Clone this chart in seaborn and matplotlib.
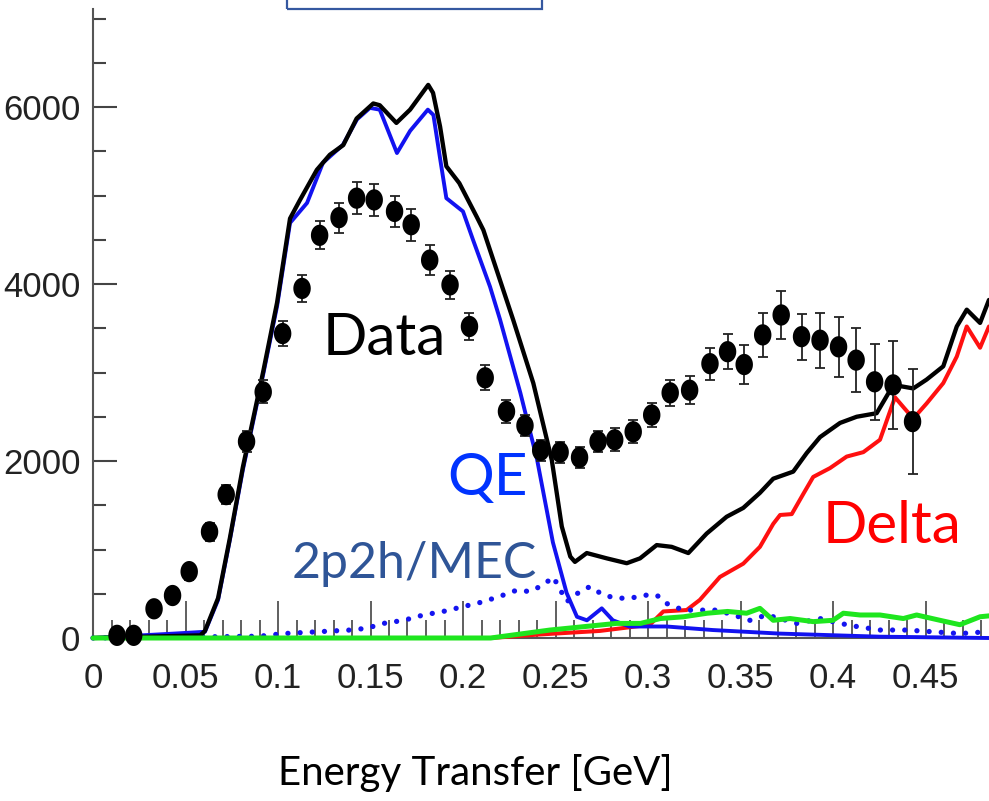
import numpy as np
import pandas as pd
import seaborn as sns
import matplotlib
matplotlib.use("Agg")
import matplotlib.pyplot as plt
from matplotlib.path import Path
from matplotlib.patches import Rectangle
from matplotlib.ticker import FixedLocator, MultipleLocator

# ---- measured cross-section points (energy transfer in GeV, events) ----
data_x = [0.013, 0.022, 0.033, 0.043, 0.052, 0.063, 0.072, 0.083, 0.092, 0.1025,
          0.113, 0.1225, 0.133, 0.1425, 0.152, 0.163, 0.172, 0.182, 0.193, 0.2035,
          0.212, 0.2235, 0.2335, 0.242, 0.2525, 0.263, 0.273, 0.282, 0.292, 0.302,
          0.312, 0.3225, 0.3335, 0.343, 0.352, 0.362, 0.372, 0.383, 0.393, 0.403,
          0.4125, 0.4225, 0.4325, 0.443]
data_y = [30, 30, 330, 480, 750, 1200, 1620, 2220, 2780, 3440,
          3950, 4550, 4750, 4970, 4950, 4820, 4670, 4270, 3990, 3520,
          2940, 2560, 2400, 2120, 2100, 2040, 2220, 2240, 2330, 2520,
          2770, 2800, 3100, 3235, 3090, 3425, 3650, 3405, 3365, 3290,
          3140, 2895, 2860, 2445]
data_err = [30, 30, 60, 70, 90, 100, 110, 120, 130, 140,
            150, 160, 170, 180, 180, 180, 180, 170, 160, 150,
            140, 130, 120, 120, 120, 120, 120, 130, 130, 140,
            150, 160, 180, 200, 225, 245, 270, 260, 310, 340,
            365, 430, 500, 590]

# ---- model: total prediction ----
total_x = [0.0, 0.058, 0.0605, 0.0676, 0.074, 0.081, 0.092, 0.0995, 0.1065, 0.1119,
           0.121, 0.128, 0.1353, 0.1425, 0.1515, 0.155, 0.164, 0.1714, 0.1812, 0.1838,
           0.1876, 0.191, 0.198, 0.2074, 0.211, 0.2164, 0.2272, 0.238, 0.248, 0.2534,
           0.258, 0.2605, 0.2669, 0.2777, 0.2885, 0.2957, 0.3047, 0.3128, 0.3218, 0.3317,
           0.3425, 0.3515, 0.3605, 0.3677, 0.3785, 0.3858, 0.393, 0.4038, 0.4128, 0.4236,
           0.4326, 0.4434, 0.4506, 0.4596, 0.4669, 0.4723, 0.4795, 0.4843]
total_y = [0, 30, 80, 450, 1130, 1930, 3010, 3790, 4740, 4950,
           5290, 5460, 5570, 5870, 6040, 6020, 5820, 5970, 6250, 6160,
           5780, 5330, 5140, 4760, 4610, 4270, 3590, 2880, 2010, 1260,
           920, 860, 960, 900, 845, 900, 1050, 1030, 960, 1180,
           1370, 1470, 1640, 1800, 1880, 2090, 2270, 2430, 2500, 2540,
           2860, 2820, 2920, 3070, 3520, 3710, 3560, 3820]

# ---- quasi-elastic component ----
qe_x = [0.0, 0.044, 0.0605, 0.0676, 0.074, 0.081, 0.092, 0.0995, 0.1065, 0.1157,
        0.1243, 0.135, 0.1427, 0.1497, 0.155, 0.1643, 0.1714, 0.181, 0.184, 0.1876,
        0.191, 0.2, 0.2054, 0.2146, 0.22, 0.231, 0.24, 0.2486, 0.256, 0.2616,
        0.267, 0.275, 0.281, 0.29, 0.31, 0.335, 0.371, 0.425, 0.4843]
qe_y = [0, 50, 70, 430, 1110, 1900, 2980, 3750, 4690, 4916,
        5370, 5570, 5860, 5990, 5970, 5480, 5730, 5970, 5910, 5420,
        4970, 4820, 4500, 3970, 3600, 2770, 2020, 1080, 510, 240,
        200, 335, 200, 130, 130, 90, 50, 15, 0]

# ---- 2p2h / meson-exchange-current component ----
mec_x = [0.0, 0.09, 0.103, 0.121, 0.139, 0.148, 0.157, 0.168, 0.1786, 0.1893,
         0.2002, 0.211, 0.2218, 0.229, 0.2362, 0.2434, 0.2488, 0.2561, 0.2632, 0.2686,
         0.2759, 0.283, 0.2903, 0.2993, 0.3047, 0.3101, 0.3191, 0.3281, 0.3373, 0.3461,
         0.3551, 0.3641, 0.3714, 0.3804, 0.3929, 0.4038, 0.4128, 0.4254, 0.4398, 0.4542,
         0.4686, 0.4829]
mec_y = [0, 20, 50, 70, 90, 110, 165, 200, 260, 300,
         355, 410, 485, 540, 525, 600, 690, 410, 525, 580,
         485, 450, 450, 485, 485, 390, 315, 315, 315, 260,
         200, 260, 220, 165, 220, 165, 130, 90, 90, 70,
         50, 70]

# ---- Delta resonance component ----
delta_x = [0.0, 0.215, 0.2416, 0.274, 0.301, 0.3083, 0.3209, 0.328, 0.3389, 0.3515,
           0.3605, 0.3677, 0.3714, 0.3777, 0.384, 0.3893, 0.3984, 0.4074, 0.4164, 0.4254,
           0.4335, 0.438, 0.4434, 0.4506, 0.4596, 0.4669, 0.4723, 0.4795, 0.4843]
delta_y = [0, 0, 40, 80, 150, 300, 316, 430, 690, 840,
           1030, 1290, 1390, 1400, 1630, 1820, 1920, 2050, 2100, 2240,
           2720, 2610, 2480, 2650, 2880, 3180, 3520, 3280, 3520]

# ---- other channels ----
other_x = [0.0, 0.215, 0.247, 0.283, 0.296, 0.3067, 0.3193, 0.332, 0.343, 0.3533,
           0.3605, 0.3677, 0.3768, 0.3893, 0.4, 0.4056, 0.4146, 0.4254, 0.438, 0.4452,
           0.4578, 0.4686, 0.4795, 0.4843]
other_y = [0, 0, 90, 165, 165, 220, 240, 280, 300, 280,
           335, 200, 220, 185, 200, 280, 260, 260, 220, 260,
           200, 150, 240, 250]

xtick_vals = [0, 0.05, 0.1, 0.15, 0.2, 0.25, 0.3, 0.35, 0.4, 0.45]
xtick_labels = ["0", "0.05", "0.1", "0.15", "0.2", "0.25", "0.3", "0.35", "0.4", "0.45"]
ytick_vals = [0, 2000, 4000, 6000]
ytick_labels = ["0", "2000", "4000", "6000"]

sns.set_style("ticks")
plt.rcParams["font.family"] = ["Liberation Sans", "DejaVu Sans"]

W, H = 989, 801
fig = plt.figure(figsize=(W / 100, H / 100), dpi=100)
fig.patch.set_facecolor("white")

# axes frame in pixel units: y-axis at x=93, zero line at y=638, top at y=9
ax_left, ax_bottom_px, ax_top_px = 93, 638, 9
ax = fig.add_axes([ax_left / W, 1 - ax_bottom_px / H,
                   (W - ax_left) / W, (ax_bottom_px - ax_top_px) / H])
px_per_unit = 531 / 6000.0
ax.set_xlim(0, (W - ax_left) / 1850.0)
ax.set_ylim(0, (ax_bottom_px - ax_top_px) / px_per_unit)


def draw_curve(xs, ys, color, lw, z):
    sns.lineplot(x=xs, y=ys, ax=ax, color=color, lw=lw, sort=False,
                 estimator=None, zorder=z)
    ln = ax.lines[-1]
    ln.set_clip_on(False)
    ln.set_solid_joinstyle("round")
    return ln


draw_curve(delta_x, delta_y, "#ff1010", 2.9, 3)
mec = draw_curve(mec_x, mec_y, "#1414f0", 3.8, 3)
mec.set_linestyle((0, (0.01, 2.3)))
mec.set_dash_capstyle("round")
draw_curve(qe_x, qe_y, "#1212f0", 2.8, 4)
draw_curve(total_x, total_y, "black", 3.1, 4)
draw_curve(other_x, other_y, "#1ee61e", 3.6, 5)

# data points with statistical error bars
ax.errorbar(data_x, data_y, yerr=data_err, fmt="none", ecolor="#222222",
            elinewidth=1.3, capsize=3.8, capthick=1.3, zorder=6, clip_on=False)
t = np.linspace(0, 2 * np.pi, 40)
ellipse = Path(np.column_stack([0.82 * np.cos(t), np.sin(t)]))
sns.scatterplot(x=data_x, y=data_y, ax=ax, marker=ellipse, s=235, color="black",
                edgecolor="none", linewidth=0, zorder=7, clip_on=False)

# axes styling
for side in ("top", "right"):
    ax.spines[side].set_visible(False)
for side in ("left", "bottom"):
    ax.spines[side].set_color("#555555")
    ax.spines[side].set_linewidth(1.5)

ax.xaxis.set_major_locator(FixedLocator(xtick_vals))
ax.set_xticklabels(xtick_labels)
ax.xaxis.set_minor_locator(MultipleLocator(0.01))
ax.yaxis.set_major_locator(FixedLocator(ytick_vals))
ax.set_yticklabels(ytick_labels)
ax.yaxis.set_minor_locator(MultipleLocator(500))

ax.tick_params(which="both", bottom=True, left=True, top=False, right=False)
ax.tick_params(axis="x", which="major", direction="in", length=27, width=1.2,
               color="#444444", labelsize=25, labelcolor="#222222", pad=17)
ax.tick_params(axis="x", which="minor", direction="in", length=13, width=1.2,
               color="#444444")
ax.tick_params(axis="y", which="major", direction="in", length=17, width=1.5,
               color="#444444", labelsize=25, labelcolor="#222222", pad=9)
ax.tick_params(axis="y", which="minor", direction="in", length=9, width=1.5,
               color="#444444")
ax.set_xlabel("")
ax.set_ylabel("")

# component annotations
label_font = ["Lato", "DejaVu Sans"]
ax.text(0.1243, 3198, "Data", color="black", fontsize=42, family=label_font,
        ha="left", va="baseline", zorder=8)
ax.text(0.1914, 1616, "QE", color="#0033ff", fontsize=42, family=label_font,
        ha="left", va="baseline", zorder=8)
ax.text(0.1074, 678, "2p2h/MEC", color="#2f5597", fontsize=36, family=label_font,
        ha="left", va="baseline", zorder=8)
ax.text(0.3946, 1073, "Delta", color="#ff0000", fontsize=42, family=label_font,
        ha="left", va="baseline", zorder=8)

fig.text(475 / W, 1 - 785 / H, "Energy Transfer [GeV]", color="black",
         fontsize=29, family=label_font, ha="center", va="baseline")

# outlined box at the top edge
fig.patches.append(Rectangle((287 / W, 1 - 9 / H), 255 / W, 0.05,
                             transform=fig.transFigure, fill=False,
                             edgecolor="#3558a0", linewidth=1.6))

fig.savefig("out.png", dpi=100, facecolor="white")
